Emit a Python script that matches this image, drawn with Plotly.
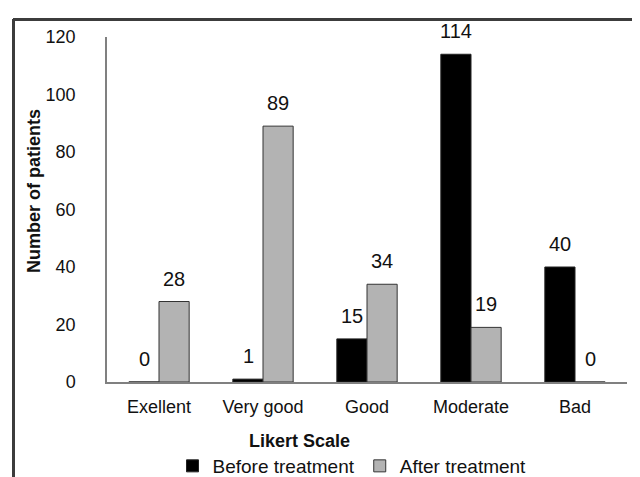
import plotly.graph_objects as go

categories = ["Exellent", "Very good", "Good", "Moderate", "Bad"]
before = [0, 1, 15, 114, 40]
after = [28, 89, 34, 19, 0]
series_names = ["Before treatment", "After treatment"]
y_ticks = [0, 20, 40, 60, 80, 100, 120]

# the page renders the figure with an 8px body offset
OFF = 8
W, H = 640 - OFF, 477 - OFF
L, R, T, B = 107 - OFF, 13, 37 - OFF, 95
pw, ph = W - L - R, H - T - B

def px_x(x):
    return (x - OFF - L) / pw

def px_y(y):
    return (H - B - (y - OFF)) / ph

FONT = "Liberation Sans, Arial, sans-serif"
TXT = "#111111"

fig = go.Figure()
fig.add_trace(go.Bar(x=categories, y=before, name=series_names[0],
                     marker=dict(color="#000000", line=dict(color="#222222", width=1))))
fig.add_trace(go.Bar(x=categories, y=after, name=series_names[1],
                     marker=dict(color="#b3b3b3", line=dict(color="#333333", width=1))))

# data labels
for vals, shift in ((before, -15), (after, 15)):
    for c, v in zip(categories, vals):
        fig.add_annotation(x=c, y=v, xref="x", yref="y", text=str(v), showarrow=False,
                           xshift=shift, yshift=10, yanchor="bottom", xanchor="center",
                           font=dict(family=FONT, size=20, color=TXT))

# axis titles
fig.add_annotation(x=px_x(34), y=px_y(191), xref="paper", yref="paper",
                   xanchor="center", yanchor="middle",
                   text="<b>Number of patients</b>", textangle=-90, showarrow=False,
                   font=dict(family=FONT, size=18, color=TXT))
fig.add_annotation(x=px_x(299), y=px_y(441), xref="paper", yref="paper",
                   xanchor="center", yanchor="middle",
                   text="<b>Likert Scale</b>", showarrow=False,
                   font=dict(family=FONT, size=18, color=TXT))

# outer frame
FRAME = dict(color="#3c3c3c", width=2)
fx0, fx1, fy_top, fy_bot = px_x(13), px_x(634), px_y(19), px_y(495)
fig.add_shape(type="line", xref="paper", yref="paper", x0=fx0, x1=fx0, y0=fy_top, y1=fy_bot, line=FRAME)
fig.add_shape(type="line", xref="paper", yref="paper", x0=fx0, x1=0.5, y0=fy_top, y1=fy_top, line=FRAME)
fig.add_shape(type="line", xref="paper", yref="paper", x0=0.5, x1=fx1, y0=fy_top, y1=fy_top, line=FRAME)
fig.add_shape(type="line", xref="paper", yref="paper", x0=fx1, x1=fx1, y0=fy_top, y1=0.5, line=FRAME)
fig.add_shape(type="line", xref="paper", yref="paper", x0=fx1, x1=fx1, y0=0.5, y1=fy_bot, line=FRAME)
# same frame as a bordered empty annotation box
fig.add_annotation(x=px_x(13), y=px_y(19), xref="paper", yref="paper", xanchor="left", yanchor="top",
                   text=" ", showarrow=False, width=619, height=470, borderpad=0,
                   bordercolor="#3c3c3c", borderwidth=2, bgcolor="rgba(0,0,0,0)")

fig.update_layout(
    width=W, height=H,
    margin=dict(l=L, r=R, t=T, b=B, autoexpand=False),
    paper_bgcolor="white", plot_bgcolor="white",
    barmode="group", bargap=0.42, bargroupgap=0,
    font=dict(family=FONT, size=18, color=TXT),
    showlegend=True,
    legend=dict(orientation="h", x=px_x(352), xanchor="center", y=px_y(466), yanchor="middle",
                font=dict(family=FONT, size=19, color=TXT), bgcolor="rgba(0,0,0,0)",
                itemwidth=30, tracegroupgap=0),
    xaxis=dict(showline=True, linecolor="#808080", linewidth=1.5, ticks="", showgrid=False,
               tickfont=dict(family=FONT, size=18, color=TXT), ticklabelstandoff=8),
    yaxis=dict(range=[0, 120], tickvals=y_ticks, showline=True, linecolor="#808080", linewidth=1.5,
               ticks="", showgrid=False, zeroline=False,
               tickfont=dict(family=FONT, size=18, color=TXT), ticklabelstandoff=26),
)

fig.write_html("out.html")
